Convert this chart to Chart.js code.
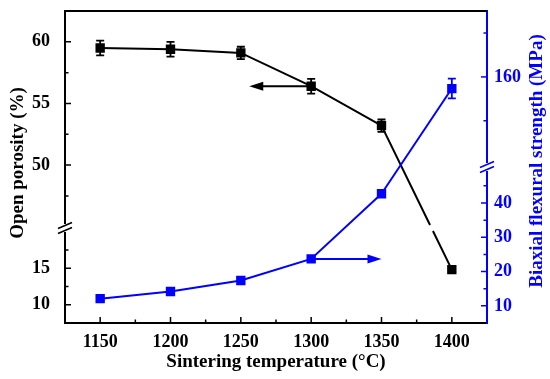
<!DOCTYPE html>
<html>
<head>
<meta charset="utf-8">
<script src="https://cdn.jsdelivr.net/npm/chart.js@4.4.1/dist/chart.umd.min.js"></script>
<style>
  html, body { margin: 0; padding: 0; background: #fff; }
  #wrap { width: 550px; height: 379px; }
</style>
</head>
<body>
<div id="wrap"><canvas id="chart"></canvas></div>
<script>
// sintering temperature (x)
const temps = [1150, 1200, 1250, 1300, 1350, 1400];
// open porosity (%), left axis
const porosity = [59.5, 59.4, 59.1, 56.4, 53.2, 14.8];
const porosityErr = [0.6, 0.6, 0.5, 0.6, 0.5, 0.3];
// biaxial flexural strength (MPa), right axis
const strength = [12.1, 14.2, 17.4, 23.7, 42.7, 154.7];
const strengthErr = [0.5, 0.6, 0.6, 0.5, 0.6, 4.5];

// ticks
const xTicks = [1150, 1200, 1250, 1300, 1350, 1400];
const xMinor = [1175, 1225, 1275, 1325, 1375];
const poroLowTicks = [10, 15];
const poroLowMinor = [12.5, 17.5];
const poroUpTicks = [50, 55, 60];
const poroUpMinor = [47.5, 52.5, 57.5];
const strLowTicks = [10, 20, 30, 40];
const strLowMinor = [15, 25, 35, 45];
const strUpTicks = [160];
const strUpMinor = [140, 180];

// axis breaks: values above go on the upper segment
const poroBreak = 30;
const strBreak = 100;

// arrows: from the 1300 point toward these temperatures
const arrowFrom = 1300;
const poroArrowTo = 1256;
const strArrowTo = 1350;

const BLUE = '#0000ff';
const BLACK = '#000000';
const FONT = '"Liberation Serif", "Times New Roman", serif';

function split(values, brk, upper) {
  return temps.map((t, i) => ({ x: t, y: (values[i] > brk) === upper ? values[i] : null }));
}

function fixedTicks(values) {
  return function (scale) { scale.ticks = values.map(v => ({ value: v })); };
}

function yScale(pos, stack, weight, min, max, ticks, color, pad) {
  return {
    type: 'linear', position: pos, stack: stack, stackWeight: weight,
    min: min, max: max,
    afterBuildTicks: fixedTicks(ticks),
    afterFit: s => { s.width = pos === 'left' ? 65 : 63; s.paddingTop = 0; s.paddingBottom = 0; },
    grid: { display: false, drawTicks: false },
    border: { display: true, color: color, width: 2 },
    ticks: { color: color, padding: pad, callback: v => String(v),
      font: { family: FONT, size: 18, weight: 'bold' } }
  };
}

const dsBase = { borderWidth: 2, pointStyle: 'rect', pointRadius: 5.2, pointHoverRadius: 5.2, tension: 0, spanGaps: false };

function scalesFor(chart, brk, lowId, upId) {
  return v => (v > brk ? chart.scales[upId] : chart.scales[lowId]);
}

function drawCross(ctx, chart, values, brk, lowId, upId, color, gap) {
  const pick = scalesFor(chart, brk, lowId, upId);
  const xs = chart.scales.x;
  const yb = chart.scales[lowId].top;
  ctx.save();
  ctx.strokeStyle = color;
  ctx.lineWidth = 2;
  for (let i = 0; i < values.length - 1; i++) {
    const a = values[i], b = values[i + 1];
    if ((a > brk) === (b > brk)) continue;
    const x1 = xs.getPixelForValue(temps[i]), y1 = pick(a).getPixelForValue(a);
    const x2 = xs.getPixelForValue(temps[i + 1]), y2 = pick(b).getPixelForValue(b);
    if (!gap) {
      ctx.beginPath(); ctx.moveTo(x1, y1); ctx.lineTo(x2, y2); ctx.stroke();
      continue;
    }
    const t1 = (yb - gap - y1) / (y2 - y1), t2 = (yb + gap - y1) / (y2 - y1);
    ctx.beginPath();
    ctx.moveTo(x1, y1); ctx.lineTo(x1 + (x2 - x1) * t1, y1 + (y2 - y1) * t1);
    ctx.moveTo(x1 + (x2 - x1) * t2, y1 + (y2 - y1) * t2); ctx.lineTo(x2, y2);
    ctx.stroke();
  }
  ctx.restore();
}

function drawErr(ctx, chart, values, errs, brk, lowId, upId, color) {
  const pick = scalesFor(chart, brk, lowId, upId);
  const xs = chart.scales.x;
  ctx.save();
  ctx.strokeStyle = color;
  ctx.lineWidth = 1.8;
  values.forEach((v, i) => {
    const s = pick(v);
    const x = xs.getPixelForValue(temps[i]);
    const yt = s.getPixelForValue(v + errs[i]), yl = s.getPixelForValue(v - errs[i]);
    ctx.beginPath();
    ctx.moveTo(x, yt); ctx.lineTo(x, yl);
    ctx.moveTo(x - 4, yt); ctx.lineTo(x + 4, yt);
    ctx.moveTo(x - 4, yl); ctx.lineTo(x + 4, yl);
    ctx.stroke();
  });
  ctx.restore();
}

function drawArrow(ctx, x1, x2, y, color) {
  const dir = Math.sign(x2 - x1);
  ctx.save();
  ctx.strokeStyle = color; ctx.fillStyle = color; ctx.lineWidth = 2;
  ctx.beginPath(); ctx.moveTo(x1, y); ctx.lineTo(x2 - dir * 10, y); ctx.stroke();
  ctx.beginPath();
  ctx.moveTo(x2, y); ctx.lineTo(x2 - dir * 14, y - 4.5); ctx.lineTo(x2 - dir * 14, y + 4.5);
  ctx.closePath(); ctx.fill();
  ctx.restore();
}

function drawMinor(ctx, scale, values, len, color) {
  ctx.save();
  ctx.strokeStyle = color; ctx.lineWidth = 1.5;
  ctx.beginPath();
  values.forEach(v => {
    const p = scale.getPixelForValue(v);
    if (scale.isHorizontal()) {
      ctx.moveTo(p, scale.top); ctx.lineTo(p, scale.top - len);
    } else if (scale.position === 'left') {
      ctx.moveTo(scale.right, p); ctx.lineTo(scale.right + len, p);
    } else {
      ctx.moveTo(scale.left, p); ctx.lineTo(scale.left - len, p);
    }
  });
  ctx.stroke();
  ctx.restore();
}

function drawBreak(ctx, x, y, color) {
  ctx.save();
  ctx.fillStyle = '#fff';
  ctx.fillRect(x - 3, y - 4, 6, 8);
  ctx.strokeStyle = color; ctx.lineWidth = 1.6;
  ctx.beginPath();
  [-2.5, 2.5].forEach(d => { ctx.moveTo(x - 7, y + d + 3); ctx.lineTo(x + 7, y + d - 3); });
  ctx.stroke();
  ctx.restore();
}

function vTitle(ctx, text, x, y, color) {
  ctx.save();
  ctx.translate(x, y); ctx.rotate(-Math.PI / 2);
  ctx.font = 'bold 19px ' + FONT;
  ctx.fillStyle = color; ctx.textAlign = 'center'; ctx.textBaseline = 'middle';
  ctx.fillText(text, 0, 0);
  ctx.restore();
}

const extras = {
  id: 'extras',
  beforeDatasetsDraw(chart) {
    const ctx = chart.ctx;
    drawErr(ctx, chart, porosity, porosityErr, poroBreak, 'yPl', 'yPu', BLACK);
    drawErr(ctx, chart, strength, strengthErr, strBreak, 'ySl', 'ySu', BLUE);
    drawCross(ctx, chart, porosity, poroBreak, 'yPl', 'yPu', BLACK, 3);
    drawCross(ctx, chart, strength, strBreak, 'ySl', 'ySu', BLUE, 0);
    const xs = chart.scales.x;
    const iA = temps.indexOf(arrowFrom);
    drawArrow(ctx, xs.getPixelForValue(arrowFrom), xs.getPixelForValue(poroArrowTo),
      chart.scales.yPu.getPixelForValue(porosity[iA]), BLACK);
    drawArrow(ctx, xs.getPixelForValue(arrowFrom), xs.getPixelForValue(strArrowTo),
      chart.scales.ySl.getPixelForValue(strength[iA]), BLUE);
  },
  afterDraw(chart) {
    const ctx = chart.ctx;
    const a = chart.chartArea;
    const s = chart.scales;
    // top frame
    ctx.save();
    ctx.strokeStyle = BLACK; ctx.lineWidth = 2;
    ctx.beginPath(); ctx.moveTo(a.left - 1, a.top); ctx.lineTo(a.right, a.top); ctx.stroke();
    ctx.restore();
    // ticks (inward)
    drawMinor(ctx, s.x, xTicks, 6, BLACK);
    drawMinor(ctx, s.x, xMinor, 3.5, BLACK);
    drawMinor(ctx, s.yPl, poroLowTicks, 6, BLACK);
    drawMinor(ctx, s.yPl, poroLowMinor, 3.5, BLACK);
    drawMinor(ctx, s.yPu, poroUpTicks, 6, BLACK);
    drawMinor(ctx, s.yPu, poroUpMinor, 3.5, BLACK);
    drawMinor(ctx, s.ySl, strLowTicks, 6, BLUE);
    drawMinor(ctx, s.ySl, strLowMinor, 3.5, BLUE);
    drawMinor(ctx, s.ySu, strUpTicks, 6, BLUE);
    drawMinor(ctx, s.ySu, strUpMinor, 3.5, BLUE);
    // breaks
    drawBreak(ctx, a.left, s.yPl.top, BLACK);
    drawBreak(ctx, a.right, s.ySl.top, BLUE);
    // titles
    vTitle(ctx, 'Open porosity (%)', 18, 163, BLACK);
    vTitle(ctx, 'Biaxial flexural strength (MPa)', 537, 161, BLUE);
    ctx.save();
    ctx.font = 'bold 19px ' + FONT;
    ctx.fillStyle = BLACK; ctx.textAlign = 'center'; ctx.textBaseline = 'middle';
    ctx.fillText('Sintering temperature (°C)', (a.left + a.right) / 2, 362);
    ctx.restore();
  }
};

new Chart(document.getElementById('chart'), {
  type: 'line',
  data: {
    datasets: [
      Object.assign({ label: 'Open porosity', data: split(porosity, poroBreak, true), yAxisID: 'yPu',
        borderColor: BLACK, backgroundColor: BLACK }, dsBase),
      Object.assign({ label: 'Open porosity (low)', data: split(porosity, poroBreak, false), yAxisID: 'yPl',
        borderColor: BLACK, backgroundColor: BLACK }, dsBase),
      Object.assign({ label: 'Biaxial flexural strength', data: split(strength, strBreak, false), yAxisID: 'ySl',
        borderColor: BLUE, backgroundColor: BLUE }, dsBase),
      Object.assign({ label: 'Biaxial flexural strength (high)', data: split(strength, strBreak, true), yAxisID: 'ySu',
        borderColor: BLUE, backgroundColor: BLUE }, dsBase)
    ]
  },
  options: {
    responsive: true,
    maintainAspectRatio: false,
    animation: false,
    layout: { padding: { top: 11, left: 0, right: 0, bottom: 0 } },
    plugins: { legend: { display: false }, tooltip: { enabled: false } },
    scales: {
      x: {
        type: 'linear', min: 1125, max: 1425,
        afterBuildTicks: fixedTicks(xTicks),
        afterFit: s => { s.height = 56; s.paddingLeft = 0; s.paddingRight = 0; },
        grid: { display: false, drawTicks: false },
        border: { display: true, color: BLACK, width: 2 },
        ticks: { color: BLACK, padding: 9, callback: v => String(v),
          font: { family: FONT, size: 18, weight: 'bold' } }
      },
      yPl: yScale('left', 'L', 95, 7.5, 20.5, poroLowTicks, BLACK, 15),
      yPu: yScale('left', 'L', 217, 44.9, 62.5, poroUpTicks, BLACK, 15),
      ySu: yScale('right', 'R', 156, 119, 190, strUpTicks, BLUE, 7),
      ySl: yScale('right', 'R', 156, 5, 50.5, strLowTicks, BLUE, 7)
    }
  },
  plugins: [extras]
});
</script>
</body>
</html>
